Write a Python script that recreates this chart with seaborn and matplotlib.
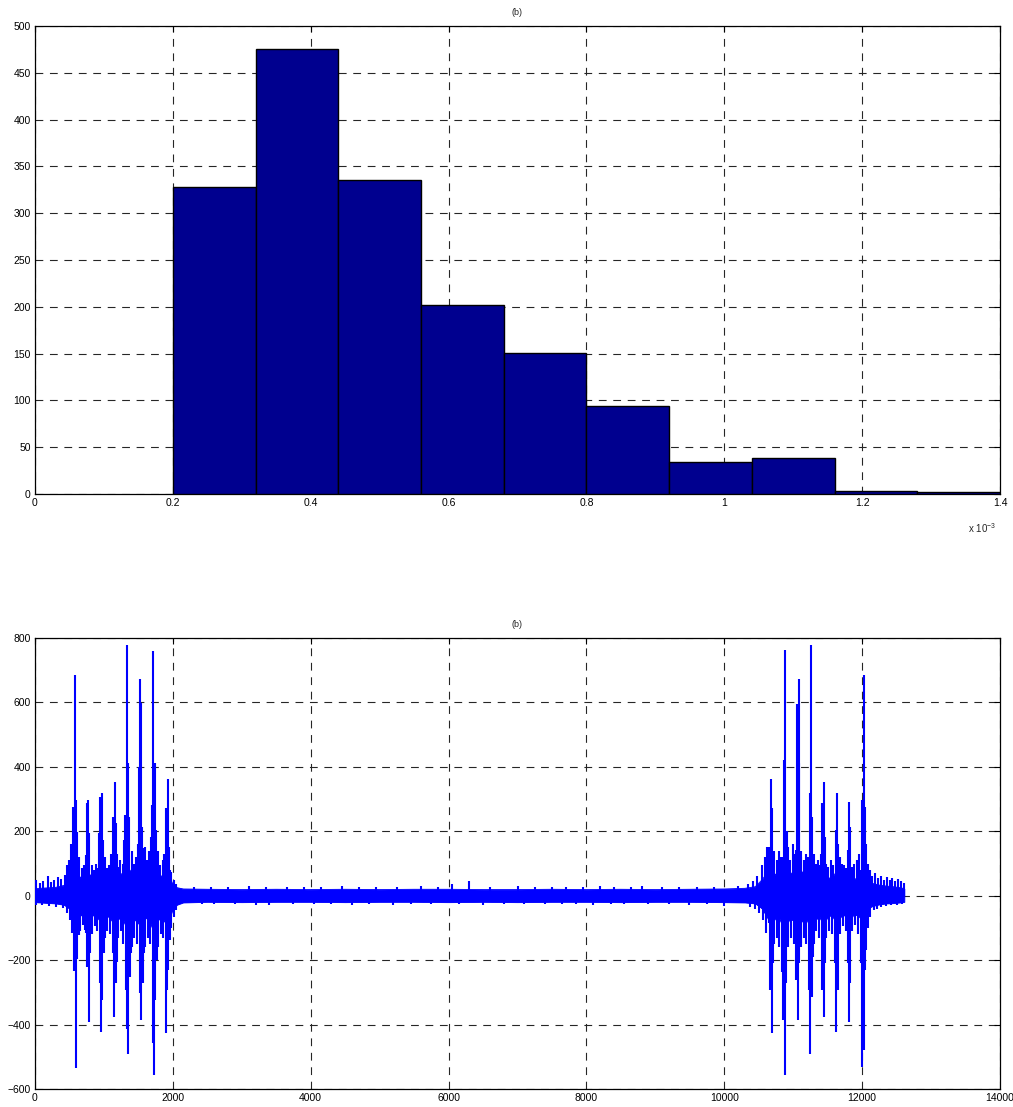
import numpy as np
import pandas as pd
import matplotlib
matplotlib.use("Agg")
import matplotlib.pyplot as plt
import seaborn as sns

# ---------------- data: histogram (top panel), x in units of 1e-3 ----------------
bin_edges = [0.20, 0.32, 0.44, 0.56, 0.68, 0.80, 0.92, 1.04, 1.16, 1.28, 1.40]
bin_counts = [328, 475, 336, 202, 151, 94, 34, 38, 3, 2]
top_xticks = [0, 0.2, 0.4, 0.6, 0.8, 1.0, 1.2, 1.4]
top_xticklabels = ["0", "0.2", "0.4", "0.6", "0.8", "1", "1.2", "1.4"]
top_yticks = [0, 50, 100, 150, 200, 250, 300, 350, 400, 450, 500]

# ---------------- data: signal (bottom panel) -------------
# dense core band of the signal: sample index, upper and lower edge
env_x = [0, 150, 300, 420, 500, 540, 600, 660, 720, 780, 840, 900, 960, 1020, 1080,
         1150, 1220, 1280, 1330, 1400, 1470, 1530, 1600, 1650, 1710, 1780, 1850, 1910,
         1960, 2000, 2060, 2150, 2500, 3000, 3500, 4000, 4500, 5000, 5500, 6000, 6500,
         7000, 7500, 8000, 8500, 9000, 9500, 10000, 10300, 10450, 10550, 10620, 10680,
         10740, 10800, 10870, 10940, 11000, 11070, 11140, 11200, 11250, 11320, 11380,
         11440, 11500, 11560, 11630, 11690, 11750, 11810, 11870, 11940, 12010, 12080,
         12150, 12250, 12350, 12450, 12550, 12612]
env_hi = [22, 24, 26, 32, 45, 65, 75, 55, 55, 70, 50, 55, 75, 55, 60,
          80, 65, 70, 95, 70, 70, 90, 65, 65, 90, 65, 60, 80,
          55, 32, 25, 21, 20, 19, 20, 19, 20, 19, 20, 20, 19,
          19, 20, 19, 20, 19, 20, 21, 23, 28, 50, 70, 85,
          65, 65, 90, 70, 70, 90, 70, 70, 95, 70, 60,
          80, 55, 55, 75, 55, 50, 70, 50, 55, 75, 45,
          38, 33, 30, 28, 25, 22]
env_lo = [-20, -22, -24, -28, -40, -65, -75, -60, -65, -80, -60, -65, -85, -65, -65,
          -90, -70, -75, -100, -80, -75, -95, -70, -70, -105, -75, -70, -90,
          -65, -40, -28, -21, -19, -20, -19, -19, -20, -19, -19, -20, -19,
          -20, -19, -19, -20, -19, -19, -20, -21, -24, -40, -65, -90,
          -70, -70, -105, -75, -75, -95, -75, -75, -100, -75, -65,
          -90, -65, -60, -85, -65, -60, -80, -60, -60, -80, -40,
          -32, -27, -24, -23, -21, -19]

# spike peaks above zero: sample index, value
pos_x = [576, 551, 600, 614, 527, 508,
         774, 759, 740, 789,
         967, 943, 929, 986,
         1156, 1132, 1175, 1194,
         1330, 1349, 1311, 1291, 1369,
         1528, 1543, 1514, 1557, 1577,
         1712, 1736, 1698, 1678, 1756,
         1925, 1896, 1911, 1944, 1959,
         20, 70, 120, 184, 230, 280, 330, 380, 430, 470, 490,
         640, 680, 710, 820, 850, 880, 905, 1010, 1040, 1070, 1100, 1210, 1240, 1270,
         1410, 1440, 1470, 1490, 1600, 1630, 1660, 1790, 1820, 1850, 1870, 1980, 2010, 2040,
         2300, 2550, 2800, 3100, 3350, 3650, 3900, 4150, 4450, 4700, 4950, 5250, 5600,
         5850, 6050, 6300, 6600, 7000, 7250, 7500, 7700, 7950, 8200, 8400, 8650, 8800,
         9100, 9350, 9600, 9850, 10200,
         10675, 10694, 10655, 10641,
         10888, 10864, 10845, 10907,
         11077, 11053, 11091, 11034, 11111,
         11256, 11237, 11271, 11217,
         11440, 11421, 11460, 11401,
         11634, 11614, 11653,
         11808, 11827, 11789,
         12021, 12001, 12040, 12060, 11982,
         10350, 10420, 10480, 10540, 10590, 10620, 10720, 10760, 10800, 10830, 10930,
         10960, 11000, 11030, 11120, 11150, 11180, 11210, 11300, 11330, 11360, 11390,
         11480, 11510, 11550, 11580, 11680, 11710, 11740, 11770, 11850, 11880, 11920,
         11950, 12080, 12110, 12150, 12190, 12230, 12270, 12320, 12360, 12400, 12440,
         12480, 12520, 12560, 12600]
pos_y = [686, 276, 297, 199, 162, 100,
         297, 287, 126, 194,
         320, 307, 194, 173,
         354, 245, 225, 131,
         778, 411, 250, 173, 245,
         672, 597, 400, 214, 147,
         761, 413, 282, 183, 204,
         361, 271, 266, 152, 80,
         48, 40, 45, 62, 42, 50, 58, 52, 65, 95, 110,
         120, 85, 95, 95, 80, 100, 85, 120, 85, 95, 130, 90, 110, 100,
         140, 100, 120, 160, 150, 110, 140, 140, 95, 110, 130, 75, 50, 35,
         28, 26, 27, 30, 26, 28, 28, 26, 29, 27, 26, 28, 30,
         27, 35, 45, 28, 30, 27, 28, 28, 27, 29, 27, 28, 30,
         27, 28, 28, 27, 30,
         361, 271, 152, 80,
         763, 421, 121, 200,
         672, 595, 411, 142, 121,
         778, 318, 245, 111,
         352, 287, 183, 130,
         318, 204, 162,
         292, 214, 142,
         685, 297, 276, 162, 80,
         35, 45, 60, 95, 120, 150, 140, 110, 140, 120, 150,
         110, 160, 130, 140, 110, 130, 120, 130, 100, 110, 95,
         100, 90, 110, 95, 120, 100, 95, 85, 90, 100, 110,
         130, 100, 80, 60, 70, 55, 62, 50, 58, 48, 55,
         45, 52, 45, 40]

# spike troughs below zero: sample index, value
neg_x = [595, 561, 614, 634,
         779, 759, 798, 740,
         958, 977, 938, 996,
         1146, 1170, 1127, 1185,
         1330, 1354, 1316, 1374, 1388,
         1543, 1523, 1562, 1582,
         1727, 1707, 1746, 1766,
         1896, 1920, 1935, 1954,
         20, 100, 200, 300, 400, 470, 510, 540,
         650, 690, 720, 830, 870, 900, 1020, 1050, 1090, 1210, 1250, 1280,
         1410, 1440, 1480, 1600, 1640, 1670, 1790, 1830, 1860, 1980, 2010, 2050,
         2420, 2600, 2900, 3200, 3400, 3750, 4050, 4300, 4600, 4850, 5200, 5450, 5750,
         6150, 6500, 6800, 7100, 7400, 7650, 7850, 8100, 8350, 8550, 8900, 9200, 9490,
         9750, 10000,
         10689, 10665, 10709, 10646,
         10874, 10859, 10840, 10893,
         11063, 11091, 11038, 11111,
         11247, 11266, 11227, 11285,
         11440, 11421, 11460,
         11624, 11643, 11605,
         11808, 11827, 11789,
         12001, 12021, 12040, 11982, 12060,
         10380, 10450, 10500, 10560, 10600, 10720, 10760, 10800, 10930, 10970, 11010,
         11120, 11150, 11190, 11300, 11330, 11370, 11480, 11520, 11560, 11680, 11720,
         11760, 11860, 11900, 11940, 12080, 12120, 12170, 12220, 12280, 12350, 12420,
         12500, 12580]
neg_y = [-534, -233, -195, -122,
         -391, -220, -179, -117,
         -422, -324, -272, -179,
         -376, -272, -179, -205,
         -414, -492, -293, -251, -179,
         -386, -303, -272, -179,
         -557, -458, -324, -200,
         -425, -293, -231, -138,
         -28, -30, -32, -34, -38, -55, -75, -115,
         -110, -90, -105, -120, -95, -110, -130, -110, -120, -130, -110, -150,
         -160, -130, -150, -160, -130, -150, -160, -120, -130, -100, -65, -45,
         -26, -27, -25, -28, -30, -26, -27, -25, -28, -26, -28, -25, -27,
         -27, -28, -26, -27, -27, -25, -26, -30, -26, -27, -26, -25, -30,
         -26, -32,
         -425, -293, -210, -86,
         -557, -386, -236, -272,
         -386, -210, -262, -148,
         -492, -314, -293, -189,
         -378, -293, -210,
         -422, -293, -210,
         -391, -272, -210,
         -531, -479, -231, -210, -169,
         -35, -40, -55, -75, -115, -150, -130, -160, -160, -130, -150,
         -160, -130, -150, -150, -110, -130, -130, -110, -120, -120, -95,
         -110, -110, -90, -120, -100, -65, -45, -40, -34, -32, -30,
         -28, -27]

bot_xticks = [0, 2000, 4000, 6000, 8000, 10000, 12000, 14000]
bot_yticks = [-600, -400, -200, 0, 200, 400, 600, 800]
panel_title = "(b)"

# ---------------- styling ----------------
sns.set_style("white")
plt.rcParams["font.family"] = ["Liberation Sans", "DejaVu Sans"]
plt.rcParams["mathtext.default"] = "regular"

fig = plt.figure(figsize=(10.13, 11.07), dpi=100)
ax1 = fig.add_axes([35 / 1013, 1 - 494 / 1107, 965 / 1013, 468 / 1107])
ax2 = fig.add_axes([35 / 1013, 1 - 1089 / 1107, 965 / 1013, 451 / 1107])

grid_kw = dict(color="0.15", linestyle=(0, (7, 6)), linewidth=0.8)
bar_color = "#00008F"
line_color = "#0000FF"

# top: histogram
centers = [(a + b) / 2 for a, b in zip(bin_edges[:-1], bin_edges[1:])]
hist_df = pd.DataFrame({"x": centers, "count": bin_counts})
sns.histplot(data=hist_df, x="x", weights="count", bins=bin_edges, ax=ax1,
             color=bar_color, edgecolor="black", linewidth=1.0, alpha=1.0, zorder=3)
ax1.set_xlim(0, 1.4)
ax1.set_ylim(0, 500)
ax1.set_xticks(top_xticks)
ax1.set_xticklabels(top_xticklabels)
ax1.set_yticks(top_yticks)
ax1.set_xlabel("")
ax1.set_ylabel("")
ax1.grid(True, **grid_kw)
ax1.set_axisbelow(True)
ax1.set_title(panel_title, fontsize=6.5, pad=8)
fig.text(968 / 1013, 1 - 528 / 1107, r"x 10$^{-3}$", fontsize=7, ha="left", va="center")

# bottom: signal
ax2.fill_between(env_x, env_lo, env_hi, color=line_color, linewidth=0.6, zorder=3)
ax2.vlines(pos_x, 0, pos_y, color=line_color, linewidth=1.5, zorder=3)
ax2.vlines(neg_x, neg_y, 0, color=line_color, linewidth=1.5, zorder=3)
sns.lineplot(x=env_x, y=env_hi, ax=ax2, color=line_color, linewidth=0.6, zorder=3)
sns.lineplot(x=env_x, y=env_lo, ax=ax2, color=line_color, linewidth=0.6, zorder=3)
ax2.set_xlim(0, 14000)
ax2.set_ylim(-600, 800)
ax2.set_xticks(bot_xticks)
ax2.set_yticks(bot_yticks)
ax2.grid(True, **grid_kw)
ax2.set_axisbelow(True)
ax2.set_title(panel_title, fontsize=6.5, pad=8)

for ax in (ax1, ax2):
    ax.tick_params(direction="in", top=True, right=True, length=4, width=0.8,
                   labelsize=7.5, pad=3, colors="black")
    for s in ax.spines.values():
        s.set_color("black")
        s.set_linewidth(0.9)
        s.set_visible(True)

fig.savefig("out.png", dpi=100)
